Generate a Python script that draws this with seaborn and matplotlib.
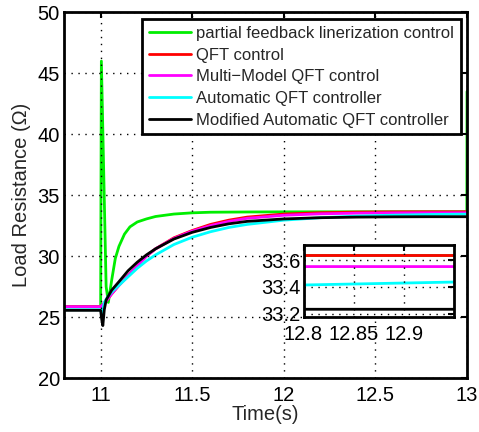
import numpy as np
import pandas as pd
import matplotlib
matplotlib.use("Agg")
import matplotlib.pyplot as plt
import seaborn as sns
from matplotlib.lines import Line2D

# Load resistance responses of the compared controllers
series_names = [
    "partial feedback linerization control",
    "QFT control",
    "Multi\u2212Model QFT control",
    "Automatic QFT controller",
    "Modified Automatic QFT controller",
]
series_colors = ["#00ee00", "#ff0000", "#ff00ff", "#00ffff", "#000000"]

t_pfl = [10.8, 11.0, 11.004, 11.03, 11.042, 11.06, 11.08, 11.1, 11.13, 11.16, 11.2,
         11.25, 11.3, 11.4, 11.5, 11.6, 11.8, 12.0, 12.5, 12.999, 13.0]
r_pfl = [25.85, 25.85, 46.0, 27.5, 26.2, 28.0, 29.8, 30.8, 31.8, 32.4, 32.8,
         33.05, 33.25, 33.45, 33.55, 33.6, 33.62, 33.63, 33.635, 33.635, 43.5]

t_qft = [10.8, 11.0, 11.01, 11.03, 11.06, 11.1, 11.15, 11.2, 11.25, 11.3, 11.4,
         11.5, 11.6, 11.7, 11.8, 12.0, 12.2, 12.4, 12.6, 12.8, 13.0]
r_qft = [25.85, 25.85, 26.0, 26.3, 26.9, 27.6, 28.4, 29.2, 30.0, 30.6, 31.5,
         32.1, 32.6, 32.95, 33.2, 33.45, 33.56, 33.61, 33.63, 33.635, 33.635]

t_mm = [10.8, 11.0, 11.01, 11.03, 11.06, 11.1, 11.15, 11.2, 11.25, 11.3, 11.4,
        11.5, 11.6, 11.7, 11.8, 12.0, 12.2, 12.4, 12.6, 12.8, 13.0]
r_mm = [25.85, 25.85, 26.0, 26.3, 26.9, 27.6, 28.4, 29.2, 30.0, 30.6, 31.45,
        32.05, 32.5, 32.85, 33.1, 33.35, 33.47, 33.52, 33.545, 33.552, 33.552]

t_aqft = [10.8, 11.0, 11.008, 11.02, 11.04, 11.07, 11.1, 11.15, 11.2, 11.25, 11.3,
          11.4, 11.5, 11.6, 11.7, 11.8, 12.0, 12.2, 12.4, 12.6, 12.8, 12.95, 13.0]
r_aqft = [25.6, 25.6, 25.2, 26.2, 26.7, 27.2, 27.6, 28.3, 29.0, 29.6, 30.1,
          30.95, 31.55, 32.0, 32.35, 32.6, 32.95, 33.15, 33.28, 33.36, 33.414, 33.436, 33.44]

t_maqft = [10.8, 11.0, 11.006, 11.012, 11.02, 11.03, 11.06, 11.1, 11.15, 11.2, 11.25,
           11.3, 11.4, 11.5, 11.6, 11.7, 11.8, 12.0, 12.2, 12.4, 12.6, 12.8, 13.0]
r_maqft = [25.55, 25.55, 24.8, 24.3, 25.6, 26.4, 27.2, 27.9, 28.8, 29.5, 30.1,
           30.6, 31.4, 31.95, 32.35, 32.65, 32.85, 33.05, 33.15, 33.2, 33.222, 33.232, 33.232]

times = [t_pfl, t_qft, t_mm, t_aqft, t_maqft]
values = [r_pfl, r_qft, r_mm, r_aqft, r_maqft]

frames = []
for name, t, r in zip(series_names, times, values):
    frames.append(pd.DataFrame({"time": t, "resistance": r, "controller": name}))
df = pd.concat(frames, ignore_index=True)

main_xticks = [11, 11.5, 12, 12.5, 13]
main_xlabels = ["11", "11.5", "12", "12.5", "13"]
main_yticks = [20, 25, 30, 35, 40, 45, 50]
inset_xticks = [12.8, 12.85, 12.9]
inset_xlabels = ["12.8", "12.85", "12.9"]
inset_yticks = [33.2, 33.4, 33.6]
inset_ylabels = ["33.2", "33.4", "33.6"]

sns.set_style("white")
plt.rcParams["font.family"] = ["Liberation Sans", "DejaVu Sans"]
plt.rcParams["xtick.direction"] = "in"
plt.rcParams["ytick.direction"] = "in"

TICK_FS = 14.5
LABEL_FS = 14.5

fig = plt.figure(figsize=(4.79, 4.32), dpi=100)
ax = fig.add_axes([0.1336, 0.125, 0.975 - 0.1336, 0.9715 - 0.125])

palette = dict(zip(series_names, series_colors))


def draw_lines(axis, lw):
    for name in series_names:
        sub = df[df["controller"] == name]
        sns.lineplot(data=sub, x="time", y="resistance", color=palette[name],
                     linewidth=lw, estimator=None, sort=False, ax=axis,
                     legend=False)


def style_axes(axis):
    for sp in axis.spines.values():
        sp.set_linewidth(2.0)
        sp.set_color("black")
        sp.set_visible(True)
    axis.tick_params(axis="both", which="both", direction="in", length=4,
                     width=1.5, top=True, right=True, labelsize=TICK_FS,
                     colors="black")
    axis.tick_params(axis="x", pad=6)
    axis.tick_params(axis="y", pad=3)
    axis.grid(True, linestyle=(0, (1, 4)), color="black", linewidth=1.0)
    axis.set_axisbelow(False)


draw_lines(ax, 2.0)
ax.set_xlim(10.8, 13)
ax.set_ylim(20, 50)
ax.set_xticks(main_xticks)
ax.set_xticklabels(main_xlabels)
ax.set_yticks(main_yticks)
style_axes(ax)
ax.set_xlabel("Time(s)", fontsize=LABEL_FS, labelpad=0)
ax.set_ylabel("Load Resistance (\u03a9)", fontsize=LABEL_FS, labelpad=5)

handles = [Line2D([0], [0], color=c, linewidth=2.0) for c in series_colors]
leg = ax.legend(handles, series_names, loc="upper right",
                bbox_to_anchor=(0.985, 0.981), borderaxespad=0, fontsize=12,
                handlelength=2.5, handletextpad=0.35, labelspacing=0.4,
                frameon=True, fancybox=False, borderpad=0.4, framealpha=1)
leg.get_frame().set_edgecolor("black")
leg.get_frame().set_linewidth(2.0)

# Zoomed view of the settled values
axin = fig.add_axes([303.5 / 479, 1 - 317 / 432, 150.5 / 479, 71.5 / 432])
axin.set_facecolor("white")
draw_lines(axin, 2.0)
axin.set_xlim(12.8, 12.95)
axin.set_ylim(33.174, 33.71)
axin.set_xticks(inset_xticks)
axin.set_xticklabels(inset_xlabels)
axin.set_yticks(inset_yticks)
axin.set_yticklabels(inset_ylabels)
style_axes(axin)
axin.tick_params(axis="y", pad=2)
axin.set_xlabel("")
axin.set_ylabel("")

fig.savefig("out.png", dpi=100)
